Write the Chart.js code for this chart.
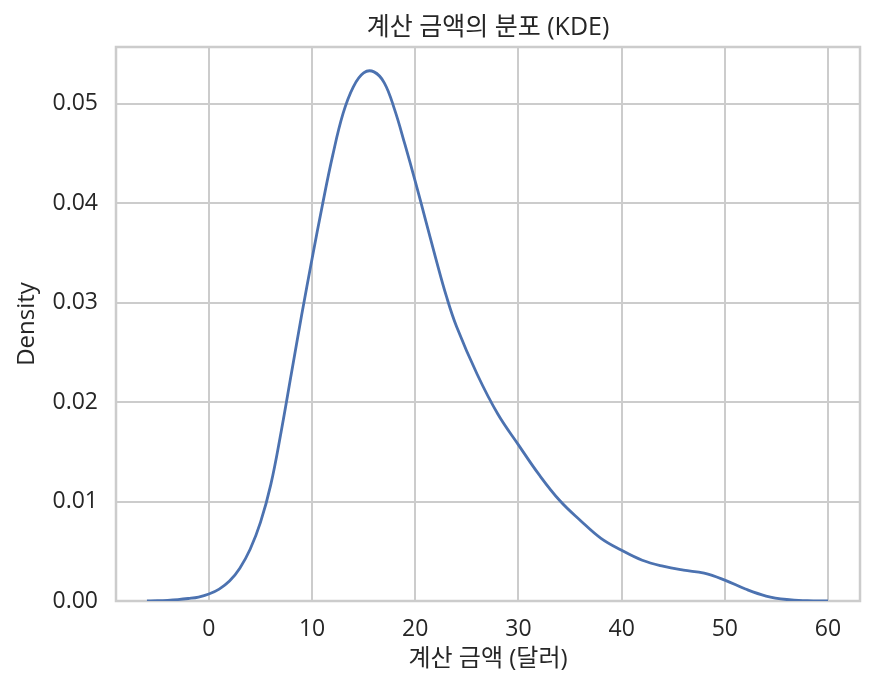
<!DOCTYPE html>
<html>
<head>
<meta charset="utf-8">
<script src="https://cdn.jsdelivr.net/npm/chart.js@4/dist/chart.umd.min.js"></script>
<style>
  html, body { margin: 0; padding: 0; background: #fff; }
  #wrap { width: 874px; height: 692px; }
</style>
</head>
<body>
<div id="wrap"><canvas id="kdeChart" width="874" height="692"></canvas></div>
<script>
// KDE curve (bill amount -> density)
const billX = [-6, -5, -4, -3, -2, -1, 0, 1, 2, 3, 4, 5, 6, 7, 8, 9, 10, 11, 12, 13,
  14, 15, 16, 17, 18, 19, 20, 21, 22, 23, 24, 26, 28, 30, 32, 34, 36, 38, 40, 42,
  44, 46, 48, 50, 52, 54, 56, 58, 60];
const density = [0.00001, 0.00003, 0.00007, 0.00014, 0.00025, 0.0004, 0.0007, 0.0012,
  0.002, 0.0033, 0.0052, 0.0079, 0.0117, 0.017, 0.0229, 0.0288, 0.0344, 0.0398,
  0.0448, 0.049, 0.0517, 0.0531, 0.0532, 0.0521, 0.0494, 0.0459, 0.0422, 0.0383,
  0.0344, 0.0307, 0.0276, 0.0228, 0.0188, 0.0157, 0.0127, 0.0101, 0.0081, 0.0063,
  0.0051, 0.0041, 0.0035, 0.0031, 0.0028, 0.0021, 0.0012, 0.0005, 0.00015, 0.00003, 0];

const xTicks = [0, 10, 20, 30, 40, 50, 60];
const yTicks = [0, 0.01, 0.02, 0.03, 0.04, 0.05];

const FONT = "'Open Sans', 'Noto Sans CJK KR', sans-serif";
const TEXT = "#262626";
const GRID = "#cccccc";

const points = billX.map((x, i) => ({ x: x, y: density[i] }));

// seaborn whitegrid draws spines on all four sides
const frame = {
  id: "frame",
  beforeDatasetsDraw(chart) {
    const { ctx, chartArea } = chart;
    ctx.save();
    ctx.strokeStyle = GRID;
    ctx.lineWidth = 2.5;
    ctx.strokeRect(chartArea.left, chartArea.top,
      chartArea.right - chartArea.left, chartArea.bottom - chartArea.top);
    ctx.restore();
  }
};

new Chart(document.getElementById("kdeChart").getContext("2d"), {
  type: "line",
  data: {
    datasets: [{
      label: "Density",
      data: points,
      borderColor: "#4c72b0",
      borderWidth: 2.8,
      pointRadius: 0,
      fill: false,
      tension: 0.4
    }]
  },
  options: {
    responsive: false,
    animation: false,
    layout: { padding: { left: 0, right: 14, top: 0, bottom: 0 } },
    plugins: {
      legend: { display: false },
      tooltip: { enabled: false },
      title: {
        display: true,
        text: "계산 금액의 분포 (KDE)",
        fullSize: false,
        color: TEXT,
        font: { family: FONT, size: 25, weight: "normal" },
        padding: { top: 13, bottom: 4 }
      }
    },
    scales: {
      x: {
        type: "linear",
        min: -9.0,
        max: 63.1,
        afterBuildTicks: (scale) => { scale.ticks = xTicks.map(v => ({ value: v })); },
        afterFit: (scale) => { scale.height = 91; },
        grid: { color: GRID, lineWidth: 2, drawTicks: false },
        border: { display: false },
        ticks: {
          padding: 15,
          color: TEXT,
          font: { family: FONT, size: 23 },
          maxRotation: 0,
          autoSkip: false
        },
        title: {
          display: true,
          text: "계산 금액 (달러)",
          color: TEXT,
          font: { family: FONT, size: 24 },
          padding: 18
        }
      },
      y: {
        type: "linear",
        min: 0,
        max: 0.0557,
        afterBuildTicks: (scale) => { scale.ticks = yTicks.map(v => ({ value: v })); },
        afterFit: (scale) => { scale.width = 116; },
        grid: { color: GRID, lineWidth: 2, drawTicks: false },
        border: { display: false },
        ticks: {
          padding: 18,
          color: TEXT,
          font: { family: FONT, size: 23 },
          callback: (v) => v.toFixed(2)
        },
        title: {
          display: true,
          text: "Density",
          color: TEXT,
          font: { family: FONT, size: 24 },
          padding: 13
        }
      }
    }
  },
  plugins: [frame]
});
</script>
</body>
</html>
